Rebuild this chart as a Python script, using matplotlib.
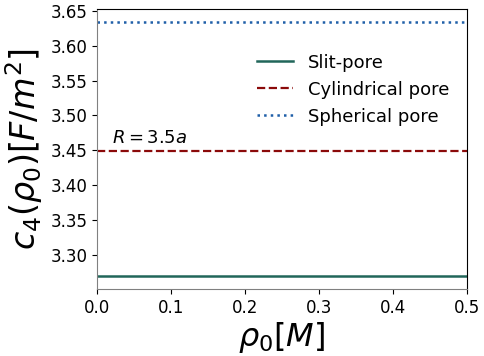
import matplotlib
matplotlib.use('Agg')
import matplotlib.pyplot as plt
import numpy as np

rho0 = [0.0, 0.1, 0.2, 0.3, 0.4, 0.5]
c4_slit = [3.2695] * 6
c4_cyl = [3.4495] * 6
c4_sph = [3.6345] * 6

fig = plt.figure(figsize=(4.84, 3.56), dpi=100)
ax = fig.add_axes([0.2004, 0.188, 0.7645, 0.787])

ax.plot(rho0, c4_slit, '-', color='#21665a', lw=1.8, label='Slit-pore')
ax.plot(rho0, c4_cyl, '--', color='#8b0a0a', lw=1.6, label='Cylindrical pore')
ax.plot(rho0, c4_sph, ':', color='#1f5fa8', lw=1.8, label='Spherical pore')

ax.set_xlim(0, 0.5)
ax.set_xticks([0.0, 0.1, 0.2, 0.3, 0.4, 0.5])
ax.set_yticks(np.arange(3.30, 3.66, 0.05))
ax.tick_params(labelsize=12)
ax.spines['left'].set_color('grey')
ax.spines['bottom'].set_color('grey')

ax.text(0.02, 3.46, r'$R = 3.5a$', fontsize=13)
ax.set_xlabel(r'$\rho_0 [M]$', fontsize=23, labelpad=2)
ax.set_ylabel(r'$c_4(\rho_0)[F/m^2]$', fontsize=24, labelpad=4)
ax.legend(frameon=False, fontsize=13, loc='upper left', bbox_to_anchor=(0.389, 0.898))

fig.savefig('out.png', dpi=100)
